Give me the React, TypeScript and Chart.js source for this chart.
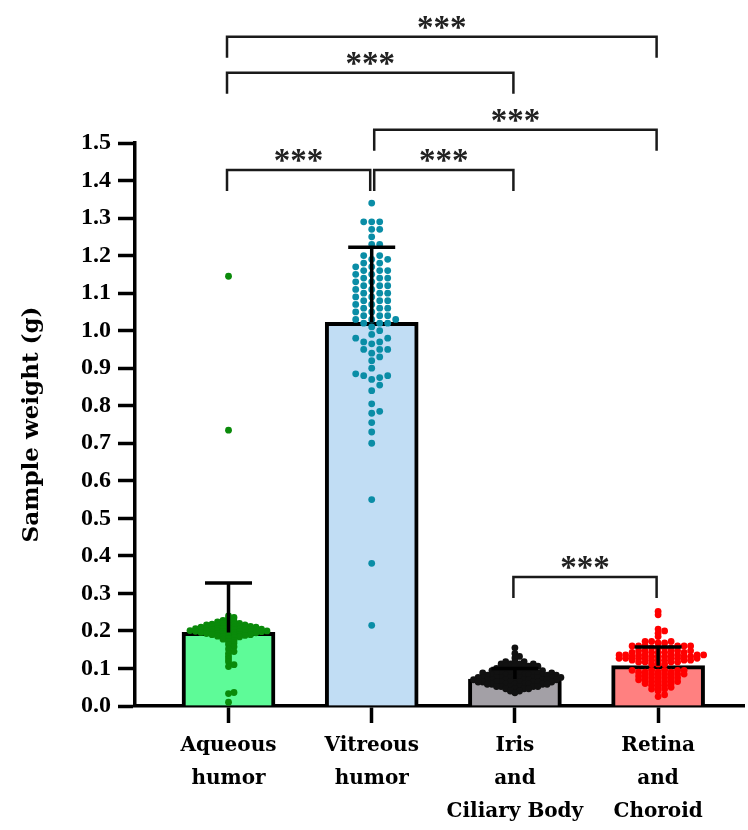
import React, { useEffect, useRef } from "react";
import { Chart, registerables } from "chart.js";

Chart.register(...registerables);

// ---------- data ----------
const CATEGORIES: string[][] = [
  ["Aqueous", "humor"],
  ["Vitreous", "humor"],
  ["Iris", "and", "Ciliary Body"],
  ["Retina", "and", "Choroid"],
];
const MEANS = [0.196, 1.022, 0.072, 0.1075];
const SDS = [0.132, 0.2, 0.028, 0.05];
const Y_TICKS_MAX = 1.5;
const Y_TICK_STEP = 0.1;

const AQUEOUS = [
  1.145, 0.735,
  0.24, 0.236, 0.232, 0.228, 0.226, 0.224, 0.222, 0.22, 0.22, 0.218, 0.218, 0.216, 0.216, 0.215, 0.214, 0.213,
  0.212, 0.212, 0.211, 0.21, 0.21, 0.21, 0.209, 0.208, 0.208, 0.207, 0.206, 0.206, 0.205, 0.205, 0.204, 0.204,
  0.203, 0.203, 0.202, 0.202, 0.201, 0.201, 0.2, 0.2, 0.2, 0.199, 0.199, 0.198, 0.198, 0.197, 0.197, 0.196,
  0.196, 0.195, 0.195, 0.194, 0.193, 0.193, 0.192, 0.191, 0.19, 0.19, 0.189, 0.188, 0.187, 0.186, 0.185, 0.184,
  0.182, 0.18, 0.178, 0.175, 0.172, 0.168, 0.164, 0.158, 0.152, 0.145, 0.14, 0.132, 0.125, 0.118, 0.11, 0.105,
  0.036, 0.033, 0.01,
];
const VITREOUS = [
  1.34, 1.29, 1.29, 1.29, 1.27, 1.27, 1.25, 1.23, 1.23,
  1.2, 1.2, 1.19, 1.19, 1.18, 1.18, 1.17, 1.17, 1.16, 1.16, 1.16, 1.15, 1.15, 1.14, 1.14, 1.14, 1.13, 1.13,
  1.12, 1.12, 1.12, 1.11, 1.11, 1.1, 1.1, 1.1, 1.09, 1.09, 1.08, 1.08, 1.08, 1.07, 1.07, 1.06, 1.06, 1.06,
  1.05, 1.05, 1.04, 1.04, 1.04, 1.03, 1.03, 1.03, 1.02, 1.02,
  1.02, 1.01, 1.0, 0.99, 0.98, 0.98, 0.97, 0.97, 0.965, 0.95, 0.95, 0.95, 0.94, 0.93, 0.92, 0.9, 0.885, 0.88,
  0.88, 0.875, 0.87, 0.855, 0.84, 0.805, 0.785, 0.78, 0.755, 0.73, 0.7, 0.55, 0.38, 0.215,
];
const IRIS = [
  0.155, 0.14, 0.132, 0.128,
  0.118, 0.118, 0.118, 0.112, 0.112, 0.112, 0.112, 0.106, 0.106, 0.106, 0.106, 0.106, 0.1, 0.1, 0.1, 0.1, 0.1,
  0.094, 0.094, 0.094, 0.094, 0.094, 0.094, 0.088, 0.088, 0.088, 0.088, 0.088, 0.088, 0.088, 0.088,
  0.082, 0.082, 0.082, 0.082, 0.082, 0.082, 0.082, 0.082, 0.082,
  0.076, 0.076, 0.076, 0.076, 0.076, 0.076, 0.076, 0.076, 0.076, 0.076,
  0.07, 0.07, 0.07, 0.07, 0.07, 0.07, 0.07, 0.07, 0.07, 0.07,
  0.064, 0.064, 0.064, 0.064, 0.064, 0.064, 0.064, 0.064, 0.064,
  0.058, 0.058, 0.058, 0.058, 0.058, 0.058, 0.058, 0.058,
  0.052, 0.052, 0.052, 0.052, 0.052, 0.052, 0.046, 0.046, 0.046, 0.046, 0.04, 0.04, 0.035,
];
const RETINA = [
  0.252, 0.243, 0.205, 0.2, 0.194, 0.185,
  0.172, 0.172, 0.172, 0.168, 0.168,
  0.16, 0.16, 0.16, 0.16, 0.16, 0.16, 0.155, 0.155, 0.155, 0.155,
  0.147, 0.147, 0.147, 0.147, 0.147, 0.143, 0.143, 0.143, 0.143, 0.143,
  0.136, 0.136, 0.136, 0.136, 0.136, 0.136, 0.136, 0.136, 0.132, 0.132, 0.132, 0.132, 0.132, 0.132,
  0.127, 0.127, 0.127, 0.127, 0.127, 0.127, 0.127, 0.122, 0.122, 0.122, 0.122, 0.122, 0.122,
  0.117, 0.117, 0.117, 0.117, 0.112, 0.112, 0.112,
  0.095, 0.095, 0.095, 0.095, 0.095, 0.09, 0.09, 0.09, 0.09, 0.085, 0.085, 0.085, 0.085,
  0.08, 0.08, 0.08, 0.08, 0.075, 0.075, 0.075, 0.07, 0.07, 0.07, 0.07, 0.065, 0.065, 0.065,
  0.06, 0.06, 0.06, 0.055, 0.055, 0.05, 0.05, 0.045, 0.045, 0.04, 0.03, 0.025,
];
const GROUPS = [AQUEOUS, VITREOUS, IRIS, RETINA];

// significance comparisons
const COMP_FROM = [0, 0, 1, 0, 1, 2];
const COMP_TO = [3, 2, 3, 1, 2, 3];
const COMP_LEVEL = [1.783, 1.687, 1.535, 1.428, 1.428, 0.344];
const COMP_LABEL = ["***", "***", "***", "***", "***", "***"];

// ---------- styles ----------
const BAR_FILLS = ["#5efb98", "#c1ddf4", "#a3a0a6", "#ff8080"];
const DOT_COLORS = ["#0a8a0a", "#0a8da6", "#111111", "#ff0000"];
const SWARM_COL = [5.5, 8, 4.6, 6.5];
const SWARM_SEP = [2.5, 6.5, 2.5, 3];

function swarmOffsets(values: number[], yPix: (v: number) => number, col: number, sep: number): number[] {
  const order = values.map((_, i) => i).sort((a, b) => values[a] - values[b]);
  const placed: { c: number; y: number }[] = [];
  const offs = new Array(values.length).fill(0);
  for (const i of order) {
    const y = yPix(values[i]);
    for (let k = 0; k < 400; k++) {
      const c = k === 0 ? 0 : k % 2 === 1 ? Math.ceil(k / 2) : -Math.ceil(k / 2);
      const ok = placed.every((p) => p.c !== c || Math.abs(p.y - y) >= sep);
      if (ok) {
        placed.push({ c, y });
        offs[i] = c * col;
        break;
      }
    }
  }
  return offs;
}

const errorBarPlugin = {
  id: "errorBars",
  afterDatasetsDraw(chart: any) {
    const { ctx, scales } = chart;
    const xs = scales.x;
    const ys = scales.y;
    ctx.save();
    ctx.strokeStyle = "#000";
    ctx.lineWidth = 3.5;
    ctx.lineCap = "butt";
    MEANS.forEach((m, i) => {
      const x = xs.getPixelForValue(i);
      const y0 = ys.getPixelForValue(m);
      const y1 = ys.getPixelForValue(m + SDS[i]);
      ctx.beginPath();
      ctx.moveTo(x, y0);
      ctx.lineTo(x, y1);
      ctx.moveTo(x - 23.5, y1);
      ctx.lineTo(x + 23.5, y1);
      ctx.stroke();
    });
    ctx.restore();
  },
};

const bracketPlugin = {
  id: "brackets",
  afterDraw(chart: any) {
    const { ctx, scales } = chart;
    const xs = scales.x;
    const ys = scales.y;
    const legPx = 21;
    ctx.save();
    ctx.strokeStyle = "#1a1a1a";
    ctx.lineWidth = 2.5;
    ctx.fillStyle = "#222";
    ctx.font = "bold 33px 'Liberation Serif'";
    ctx.textAlign = "center";
    ctx.textBaseline = "alphabetic";
    COMP_FROM.forEach((f, i) => {
      const x1 = xs.getPixelForValue(f) - 1.5;
      const x2 = xs.getPixelForValue(COMP_TO[i]) - 1.5;
      const y = ys.getPixelForValue(COMP_LEVEL[i]);
      const xa = x1 + (f === 1 ? 4 : 0);
      ctx.beginPath();
      ctx.moveTo(xa, y + legPx);
      ctx.lineTo(xa, y);
      ctx.lineTo(x2, y);
      ctx.lineTo(x2, y + legPx);
      ctx.stroke();
      ctx.fillText(COMP_LABEL[i], (xa + x2) / 2, y + 1);
    });
    ctx.restore();
  },
};

export default function App() {
  const ref = useRef<HTMLCanvasElement | null>(null);

  useEffect(() => {
    document.body.style.margin = "0";
    const canvas = ref.current;
    if (!canvas) return;

    const tickFont = { family: "'Liberation Serif'", size: 24, weight: "bold" as const };
    const labelFont = { family: "'DejaVu Serif'", size: 20, weight: "bold" as const, lineHeight: 1.65 };

    const chart = new Chart(canvas, {
      type: "bar",
      data: {
        datasets: [
          {
            type: "bar",
            data: MEANS.map((m, i) => ({ x: i, y: m })) as any,
            backgroundColor: BAR_FILLS,
            borderColor: "#000",
            borderWidth: 4,
            borderSkipped: "bottom",
            barThickness: 93,
            order: 10,
          } as any,
          ...GROUPS.map((vals, gi) => ({
            type: "scatter",
            data: vals.map((v) => ({ x: gi, y: v })),
            pointRadius: 3.4,
            pointBackgroundColor: DOT_COLORS[gi],
            pointBorderWidth: 0,
            pointHoverRadius: 3.4,
            showLine: false,
            order: 1,
          })) as any,
        ],
      },
      options: {
        animation: false,
        responsive: false,
        devicePixelRatio: 1,
        layout: { padding: { top: 143, left: 0, right: 0, bottom: 0 } },
        plugins: { legend: { display: false }, tooltip: { enabled: false } },
        scales: {
          x: {
            type: "linear",
            min: -0.653,
            max: 3.604,
            offset: false,
            afterBuildTicks: (s: any) => {
              s.ticks = CATEGORIES.map((_, i) => ({ value: i }));
            },
            afterFit: (s: any) => {
              s.height = 124;
            },
            ticks: {
              callback: (v: any) => CATEGORIES[Math.round(Number(v))] ?? "",
              font: labelFont,
              color: "#000",
              padding: 6,
              maxRotation: 0,
              autoSkip: false,
            },
            grid: {
              offset: false,
              drawOnChartArea: false,
              drawTicks: true,
              tickLength: 17,
              tickWidth: 3.5,
              tickColor: "#000",
            },
            border: { color: "#000", width: 3.5 },
          },
          y: {
            type: "linear",
            min: 0,
            max: Y_TICKS_MAX,
            afterFit: (s: any) => {
              s.width = 135;
            },
            ticks: {
              stepSize: Y_TICK_STEP,
              callback: (v: any) => Number(v).toFixed(1),
              font: tickFont,
              color: "#000",
              padding: 7,
            },
            grid: {
              drawOnChartArea: false,
              tickLength: 17,
              tickWidth: 3.5,
              tickColor: "#000",
            },
            border: { color: "#000", width: 3.5 },
            title: {
              display: true,
              text: "Sample weight (g)",
              color: "#000",
              font: { family: "'DejaVu Serif'", size: 23, weight: "bold" },
              padding: { top: 18, bottom: 0 },
            },
          },
        },
      } as any,
      plugins: [errorBarPlugin, bracketPlugin],
    });

    // beeswarm layout computed in pixel space with the chart's own scales
    const xs: any = chart.scales.x;
    const ys: any = chart.scales.y;
    const pxPerUnit = xs.getPixelForValue(1) - xs.getPixelForValue(0);
    GROUPS.forEach((vals, gi) => {
      const offs = swarmOffsets(vals, (v) => ys.getPixelForValue(v), SWARM_COL[gi], SWARM_SEP[gi]);
      (chart.data.datasets[gi + 1] as any).data = vals.map((v, j) => ({ x: gi + offs[j] / pxPerUnit, y: v }));
    });
    chart.update("none");

    return () => chart.destroy();
  }, []);

  return (
    <div style={{ width: 748, height: 830, background: "#fff" }}>
      <canvas ref={ref} width={748} height={830} style={{ display: "block" }} />
    </div>
  );
}
